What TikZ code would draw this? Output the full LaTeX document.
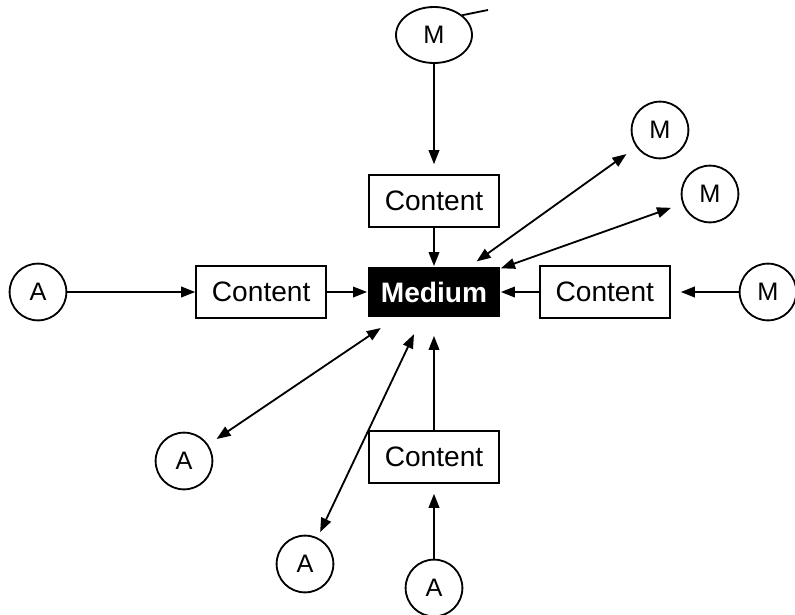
\documentclass[tikz,border=0pt]{standalone}
\usepackage{fontspec}
\setmainfont{Liberation Sans}
\usetikzlibrary{positioning,arrows.meta,shapes.geometric}
\tikzset{
  ct/.style={rectangle, draw=black, line width=1.3pt, minimum width=3.25cm, minimum height=1.3cm, text centered, inner sep=0pt, font=\fontsize{20}{24}\selectfont},
  md/.style={rectangle, fill=black, text=white, minimum width=3.3cm, minimum height=1.25cm, text centered, inner sep=0pt, font=\bfseries\fontsize{20}{24}\selectfont},
  ag/.style={circle, draw=black, line width=1.3pt, minimum size=1.42cm, inner sep=0pt, font=\fontsize{18}{22}\selectfont},
  >={Triangle[length=10pt,width=7.5pt]},
  node distance=1cm
}
\begin{document}
\begin{tikzpicture}[line width=1.3pt]
	\useasboundingbox (0,0) rectangle (19.875,-15.375);
	\node[md] (medium) at (10.85,-7.3) {Medium};
	\node[ct, above=0.95cm of medium] (ctop) {Content};
	\node[ct, below=2.8cm of medium] (cbottom) {Content};
	\node[ct, left=1cm of medium] (cleft) {Content};
	\node[ct, right=0.95cm of medium] (cright) {Content};

	\node[ag, ellipse, minimum width=1.9cm, minimum height=1.4cm] (mtop) at (10.85,-0.875) {M};
	\node[ag] (mone) at (16.5,-3.25) {M};
	\node[ag] (mtwo) at (17.75,-4.85) {M};
	\node[ag] (mright) at (19.2,-7.3) {M};

	\node[ag] (aleft) at (0.95,-7.3) {A};
	\node[ag] (alowa) at (4.6,-11.525) {A};
	\node[ag] (alowb) at (7.625,-14.1) {A};
	\node[ag] (abottom) at (10.85,-14.7) {A};
	\coordinate (tick) at (12.2,-0.25);
	%
	\draw (mtop.35) -- (tick);

	\draw[->, shorten >=0.25cm] (mtop) -- (ctop);
	\draw[->] (ctop) -- (medium);

	\draw[->] (aleft) -- (cleft);
	\draw[->] (cleft) -- (medium);
	\draw[->] (cright) -- (medium);
	\draw[->, shorten >=0.25cm] (mright) -- (cright);

	\draw[<->, shorten <=0.2cm, shorten >=0.3cm] (medium) -- (mone);
	\draw[<->, shorten >=0.3cm] (medium) -- (mtwo);

	\draw[<->, shorten <=0.45cm, shorten >=0.25cm] (medium) -- (alowa);
	\draw[<->, shorten <=0.45cm, shorten >=0.15cm] (medium) -- (alowb);
	\draw[->, shorten >=0.45cm] (cbottom) -- (medium);
	\draw[->, shorten >=0.25cm] (abottom) -- (cbottom);
\end{tikzpicture}
\end{document}
